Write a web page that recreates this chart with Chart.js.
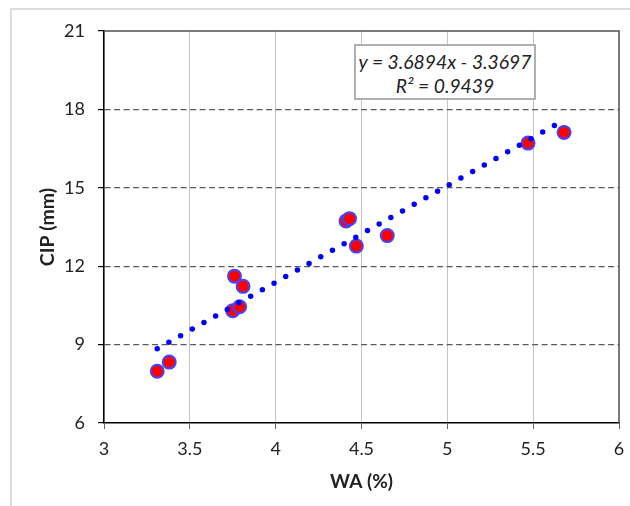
<!DOCTYPE html>
<html>
<head>
<meta charset="utf-8">
<script src="https://cdn.jsdelivr.net/npm/chart.js@4/dist/chart.umd.min.js"></script>
<style>
  html, body { margin: 0; padding: 0; background: #fff; }
  #wrap { position: relative; width: 630px; height: 506px; overflow: hidden; }
  #frame { position: absolute; left: 10px; top: 8px; width: 700px; height: 600px;
           border-top: 2px solid #dcdcdc; border-left: 2px solid #dcdcdc; box-sizing: border-box; }
  canvas { position: absolute; left: 0; top: 0; }
  #eq { position: absolute; left: 354px; top: 44px; width: 182px; height: 56px; box-sizing: border-box;
        border: 2px solid #b0b0b0; background: #fff; font-family: Lato, "Open Sans", sans-serif;
        font-style: italic; font-size: 19.3px; color: #222; text-align: center; line-height: 24px; padding-top: 4px;
        white-space: nowrap; }
</style>
</head>
<body>
<div id="wrap">
  <div id="frame"></div>
  <canvas id="c" width="630" height="506"></canvas>
  <div id="eq">y = 3.6894x - 3.3697<br>R² = 0.9439</div>
</div>
<script>
// Data
const waValues  = [3.31, 3.38, 3.76, 3.81, 3.75, 3.79, 4.41, 4.43, 4.47, 4.65, 5.47, 5.68];
const cipValues = [7.98, 8.33, 11.62, 11.23, 10.30, 10.45, 13.73, 13.82, 12.77, 13.17, 16.71, 17.12];
// Linear trendline endpoints (y = 3.6894x - 3.3697)
const trendX = [3.31, 5.68];
const trendY = [8.84, 17.59];
// Axis ticks
const xTicks = [3, 3.5, 4, 4.5, 5, 5.5, 6];
const yTicks = [6, 9, 12, 15, 18, 21];
const xTitle = 'WA (%)';
const yTitle = 'CIP (mm)';

const points = waValues.map((x, i) => ({ x: x, y: cipValues[i] }));
const trend = trendX.map((x, i) => ({ x: x, y: trendY[i] }));

const FONT = 'Lato, "Open Sans", sans-serif';

const borderPlugin = {
  id: 'plotBorder',
  beforeDatasetsDraw(chart) {
    const { ctx, chartArea: a } = chart;
    ctx.save();
    ctx.strokeStyle = '#505050';
    ctx.lineWidth = 1.5;
    ctx.beginPath();
    ctx.moveTo(a.left, a.top);
    ctx.lineTo(a.right, a.top);
    ctx.lineTo(a.right, a.bottom);
    ctx.stroke();
    ctx.restore();
  }
};

new Chart(document.getElementById('c'), {
  type: 'scatter',
  data: {
    datasets: [
      {
        type: 'line',
        data: trend,
        borderColor: '#0000ff',
        borderWidth: 5.5,
        borderDash: [0, 13.4],
        borderCapStyle: 'round',
        pointRadius: 0,
        fill: false,
        order: 0
      },
      {
        data: points,
        backgroundColor: '#ff0000',
        borderColor: '#4444ff',
        borderWidth: 2,
        pointRadius: 6.5,
        order: 1
      }
    ]
  },
  options: {
    responsive: false,
    devicePixelRatio: 1,
    animation: false,
    events: [],
    layout: { padding: { top: 31, right: 11, bottom: 0, left: 0 } },
    plugins: { legend: { display: false }, tooltip: { enabled: false } },
    scales: {
      x: {
        type: 'linear',
        min: 3, max: 6,
        afterBuildTicks: (s) => { s.ticks = xTicks.map(v => ({ value: v })); },
        afterFit: (s) => { s.height = 83; s.paddingLeft = 0; s.paddingRight = 0; },
        ticks: { color: '#222', font: { family: FONT, size: 18 }, padding: 9, maxRotation: 0,
                 callback: (v) => String(v) },
        grid: {
          color: (c) => (c.tick && (c.tick.value === 3 || c.tick.value === 6)) ? 'rgba(0,0,0,0)' : '#c4c4c4',
          lineWidth: 1,
          tickLength: 6,
          tickColor: '#666'
        },
        border: { color: '#000', width: 1.6 },
        title: { display: true, text: xTitle, color: '#222', font: { family: FONT, size: 19, weight: 'bold' },
                 padding: { top: 0, bottom: 13 } }
      },
      y: {
        type: 'linear',
        min: 6, max: 21,
        afterBuildTicks: (s) => { s.ticks = yTicks.map(v => ({ value: v })); },
        afterFit: (s) => { s.width = 104; s.paddingTop = 0; s.paddingBottom = 0; },
        ticks: { color: '#222', font: { family: FONT, size: 18 }, padding: 13,
                 callback: (v) => String(v) },
        grid: {
          color: (c) => (c.tick && (c.tick.value === 6 || c.tick.value === 21)) ? 'rgba(0,0,0,0)' : '#5a5a5a',
          lineWidth: 1.2,
          tickLength: 6,
          tickColor: '#000'
        },
        border: { color: '#000', width: 1.6, dash: [6, 3.5] },
        title: { display: true, text: yTitle, color: '#222', font: { family: FONT, size: 19.5, weight: 'bold' },
                 padding: { top: 36, bottom: 0 } }
      }
    }
  },
  plugins: [borderPlugin]
});
</script>
</body>
</html>
